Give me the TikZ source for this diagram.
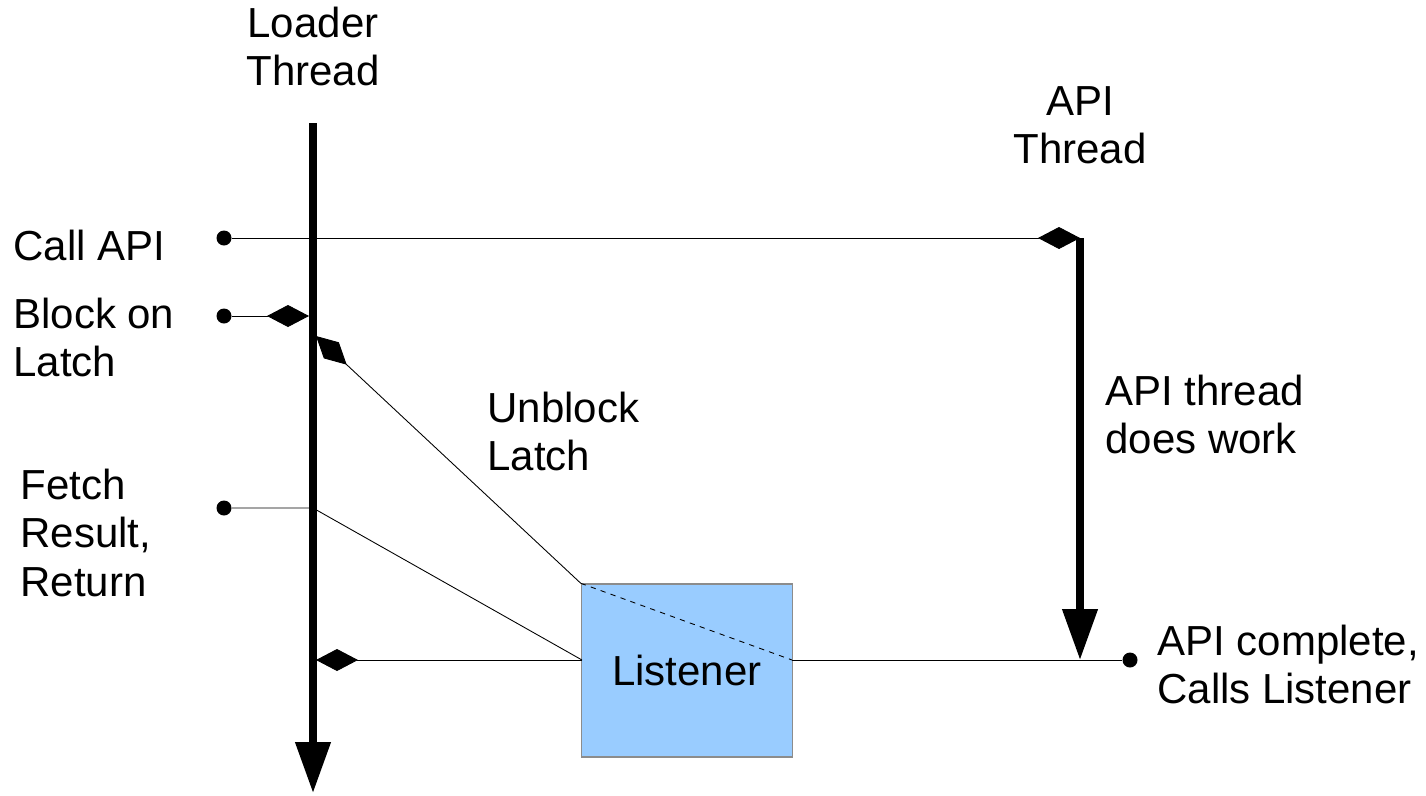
\documentclass[tikz,border=0pt]{standalone}
\usepackage{fontspec}
\setmainfont{Liberation Sans}
\usetikzlibrary{arrows.meta,positioning}
\tikzset{>=stealth}
\definecolor{listenerFill}{HTML}{99CCFF}
\colorlet{boxLine}{black!45}
\tikzset{
	thread/.style={line width=1.5mm,-{Triangle[length=1.02cm,width=0.68cm]}},
	signal/.style={line width=0.5pt},
	dia/.style={-{Diamond[length=0.84cm,width=0.44cm]}},
	dot/.style={circle,fill=black,inner sep=0pt,minimum size=0.3cm},
	label/.style={inner sep=0pt,align=left,font=\fontsize{23.9}{27.4}\selectfont},
	listener/.style={draw=boxLine,line width=0.8pt,fill=listenerFill,minimum width=4.22cm,minimum height=3.46cm,inner sep=0pt,font=\fontsize{23.9}{27.4}\selectfont}
}

\begin{document}
\begin{tikzpicture}[x=0.02cm,y=-0.02cm]
				\useasboundingbox (0,0) rectangle (1426,795);
				\coordinate (loaderTop) at (313,123);
				\coordinate (loaderEnd) at (313,793);
				\coordinate (apiTop) at (1080,238);
				\coordinate (apiEnd) at (1080,660);
				\coordinate (blockHit) at (309,316);
				\coordinate (unblockHit) at (316,336);
				\coordinate (fetchHit) at (313,508);
				\coordinate (returnHit) at (316,660);
				\coordinate (listenerIn) at (582,660);
				\coordinate (listenerOut) at (792,660);
				\node[dot] (callDot) at (224,238) {};
				\node[dot] (blockDot) at (224,316) {};
				\node[dot] (fetchDot) at (224,508) {};
				\node[dot] (doneDot) at (1130,660) {};
				\node[listener] (listener) at (687,670.5) {Listener};
				% threads
				\draw[thread] (loaderTop)--(loaderEnd);
				\draw[thread] (apiTop)--(apiEnd);
				% signals
				\draw[signal,dia] (callDot)--(apiTop);
				\draw[signal,dia] (blockDot)--(blockHit);
				\draw[signal,dia] (listener.north west)--(unblockHit);
				\draw[signal,dashed] (listener.north west)--(listenerOut);
				\draw[signal] (fetchDot)--(fetchHit)--(listenerIn);
				\draw[signal,dia] (listenerIn)--(returnHit);
				\draw[signal] (listenerOut)--(doneDot);
				% labels
				\node[label,anchor=north,align=center] (loaderLbl) at (313,7) {Loader\\Thread};
				\node[label,anchor=north,align=center] (apiLbl) at (1080,86) {API\\Thread};
				\node[label,anchor=north west] (callLbl) at (13,230) {Call API};
				\node[label,anchor=north west] (blockLbl) at (13,298) {Block on\\Latch};
				\node[label,anchor=north west] (unblockLbl) at (487,392) {Unblock\\Latch};
				\node[label,anchor=north west] (fetchLbl) at (20,469) {Fetch\\Result,\\Return};
				\node[label,anchor=north west] (workLbl) at (1105,375) {API thread\\does work};
				\node[label,anchor=north west] (doneLbl) at (1157,625) {API complete,\\Calls Listener};
				\end{tikzpicture}
\end{document}
